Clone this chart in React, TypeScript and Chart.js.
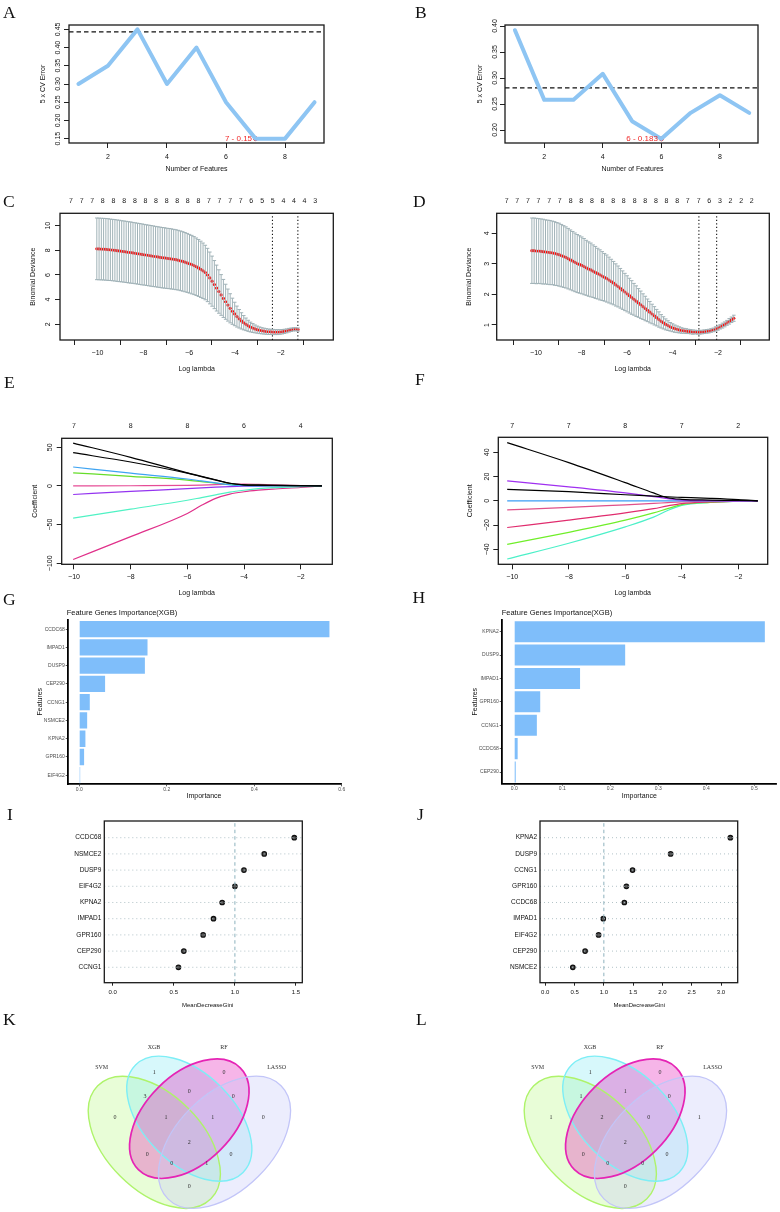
import React, { useEffect, useRef } from "react";
import { Chart, registerables } from "chart.js";

Chart.register(...registerables);

const PAGE_W = 780;
const PAGE_H = 1212;
const SANS = "'Liberation Sans', Arial, Helvetica, sans-serif";
const SERIF = "'Liberation Serif', 'Times New Roman', serif";

// ---------------- A / B : SVM-RFE ----------------
const FEATURES = [1, 2, 3, 4, 5, 6, 7, 8, 9];
const FEATURE_TICKS = [2, 4, 6, 8];
const CV_ERROR_A = [0.3, 0.35, 0.45, 0.3, 0.4, 0.25, 0.15, 0.15, 0.25];
const CV_REF_A = 0.443;
const BEST_A = { n: 7, err: 0.15, label: "7 - 0.15" };
const ERR_TICKS_A = [0.15, 0.2, 0.25, 0.3, 0.35, 0.4, 0.45];
const CV_ERROR_B = [0.392, 0.258, 0.258, 0.308, 0.217, 0.183, 0.233, 0.267, 0.233];
const CV_REF_B = 0.281;
const BEST_B = { n: 6, err: 0.183, label: "6 - 0.183" };
const ERR_TICKS_B = [0.2, 0.25, 0.3, 0.35, 0.4];

// ---------------- C / D : cv.glmnet ----------------
const LAMBDA_C_START = -10.03;
const LAMBDA_C_STEP = 0.0987;
const DEV_MEAN_C = [
  8.12, 8.11, 8.1, 8.09, 8.08, 8.06, 8.04, 8.02, 8.0, 7.97,
  7.95, 7.92, 7.9, 7.87, 7.84, 7.82, 7.79, 7.76, 7.73, 7.7,
  7.67, 7.64, 7.61, 7.58, 7.55, 7.52, 7.49, 7.46, 7.43, 7.4,
  7.38, 7.35, 7.33, 7.3, 7.27, 7.24, 7.2, 7.15, 7.1, 7.04,
  6.98, 6.91, 6.84, 6.76, 6.67, 6.57, 6.46, 6.34, 6.2, 6.0,
  5.76, 5.5, 5.22, 4.94, 4.66, 4.38, 4.1, 3.83, 3.56, 3.3,
  3.06, 2.84, 2.63, 2.45, 2.28, 2.13, 2.0, 1.88, 1.78, 1.7,
  1.63, 1.57, 1.52, 1.48, 1.45, 1.42, 1.4, 1.39, 1.38, 1.37,
  1.37, 1.38, 1.4, 1.43, 1.47, 1.52, 1.56, 1.59, 1.6, 1.58,
];
const DEV_SD_C = [
  2.5, 2.5, 2.5, 2.5, 2.5, 2.5, 2.49, 2.49, 2.49, 2.49,
  2.49, 2.48, 2.48, 2.48, 2.48, 2.48, 2.47, 2.47, 2.47, 2.47,
  2.47, 2.46, 2.46, 2.46, 2.46, 2.46, 2.45, 2.45, 2.45, 2.45,
  2.45, 2.44, 2.44, 2.44, 2.43, 2.43, 2.42, 2.42, 2.41, 2.4,
  2.39, 2.38, 2.37, 2.35, 2.33, 2.31, 2.28, 2.25, 2.21, 2.16,
  2.1, 2.03, 1.95, 1.86, 1.76, 1.65, 1.54, 1.42, 1.3, 1.18,
  1.06, 0.95, 0.85, 0.75, 0.66, 0.58, 0.51, 0.45, 0.4, 0.36,
  0.32, 0.29, 0.27, 0.25, 0.24, 0.23, 0.22, 0.21, 0.21, 0.2,
  0.2, 0.19, 0.18, 0.17, 0.16, 0.15, 0.14, 0.13, 0.13, 0.13,
];
const LAMBDA_LINES_C = [-2.36, -1.25];
const DF_POS_C = [-10.06, -9.69, -9.32, -8.95, -8.58, -8.2, -7.83, -7.46, -7.09, -6.72, -6.35, -5.98, -5.61, -5.24, -4.87, -4.5, -4.13, -3.76, -3.38, -3.01, -2.64, -2.27, -1.9, -1.53];
const DF_LAB_C = ["7", "7", "7", "8", "8", "8", "8", "8", "8", "8", "8", "8", "8", "7", "7", "7", "7", "6", "5", "5", "4", "4", "4", "3"];
const DEV_TICKS_C = [2, 4, 6, 8, 10];

const LAMBDA_D_START = -10.18;
const LAMBDA_D_STEP = 0.0997;
const DEV_MEAN_D = [
  3.43, 3.43, 3.42, 3.42, 3.41, 3.4, 3.39, 3.38, 3.37, 3.36,
  3.34, 3.32, 3.3, 3.27, 3.24, 3.21, 3.17, 3.13, 3.09, 3.05,
  3.01, 2.98, 2.95, 2.91, 2.87, 2.83, 2.8, 2.76, 2.72, 2.68,
  2.64, 2.6, 2.56, 2.52, 2.47, 2.42, 2.37, 2.31, 2.26, 2.2,
  2.14, 2.08, 2.02, 1.96, 1.9, 1.84, 1.78, 1.72, 1.66, 1.6,
  1.54, 1.48, 1.42, 1.36, 1.3, 1.24, 1.18, 1.12, 1.07, 1.02,
  0.98, 0.94, 0.91, 0.88, 0.86, 0.84, 0.82, 0.81, 0.8, 0.79,
  0.78, 0.77, 0.77, 0.76, 0.76, 0.77, 0.78, 0.79, 0.8, 0.82,
  0.84, 0.87, 0.9, 0.94, 0.98, 1.02, 1.07, 1.12, 1.17, 1.22,
];
const DEV_SD_D = [
  1.07, 1.07, 1.07, 1.06, 1.06, 1.06, 1.05, 1.05, 1.05, 1.04,
  1.04, 1.03, 1.03, 1.02, 1.01, 1.0, 0.99, 0.98, 0.97, 0.96,
  0.95, 0.94, 0.93, 0.92, 0.9, 0.89, 0.88, 0.86, 0.85, 0.83,
  0.82, 0.8, 0.78, 0.77, 0.75, 0.73, 0.71, 0.69, 0.67, 0.65,
  0.63, 0.61, 0.59, 0.57, 0.55, 0.52, 0.5, 0.47, 0.45, 0.42,
  0.4, 0.37, 0.35, 0.32, 0.3, 0.27, 0.25, 0.22, 0.2, 0.18,
  0.16, 0.14, 0.13, 0.12, 0.11, 0.1, 0.09, 0.08, 0.08, 0.07,
  0.07, 0.07, 0.06, 0.06, 0.06, 0.06, 0.06, 0.06, 0.06, 0.06,
  0.06, 0.07, 0.07, 0.07, 0.08, 0.08, 0.08, 0.09, 0.09, 0.1,
];
const LAMBDA_LINES_D = [-2.84, -2.06];
const DF_POS_D = [-10.18, -9.81, -9.43, -9.06, -8.68, -8.31, -7.93, -7.56, -7.18, -6.81, -6.43, -6.06, -5.68, -5.31, -4.93, -4.56, -4.18, -3.81, -3.43, -3.06, -2.68, -2.31, -1.93, -1.56];
const DF_LAB_D = ["7", "7", "7", "7", "7", "7", "8", "8", "8", "8", "8", "8", "8", "8", "8", "8", "8", "7", "7", "6", "3", "2", "2", "2"];
const DEV_TICKS_D = [1, 2, 3, 4];
const LOG_LAMBDA_TICKS = [-10, -8, -6, -4, -2];

// ---------------- E / F : coefficient paths ----------------
const LAMBDA_E = [-10.03, -8, -6, -5.5, -5, -4.5, -4, -3.5, -3, -2, -1.25];
const COEF_E_1 = [55.5, 37, 17, 12.5, 8, 3.5, 1.5, 1, 0.8, 0.4, 0];
const COEF_E_2 = [43, 31, 16.5, 12, 7.5, 3.5, 1.5, 1, 0.7, 0.3, 0];
const COEF_E_3 = [24.5, 16.5, 9, 6.5, 4, 1.5, 0.5, 0.2, 0.1, 0, 0];
const COEF_E_4 = [17, 12.5, 7.5, 5.5, 3.5, 2, 1.2, 0.7, 0.4, 0.1, 0];
const COEF_E_5 = [0, 0.3, 0.8, 1.2, 1.8, 2.2, 2.3, 2, 1.5, 0.6, 0];
const COEF_E_6 = [-11, -7, -3.5, -2.5, -1.5, -0.8, -0.3, -0.1, 0, 0, 0];
const COEF_E_7 = [-41.5, -30, -18.5, -15, -11.5, -8, -5.5, -3.5, -2.2, -0.8, 0];
const COEF_E_8 = [-95, -65.5, -35.5, -25, -16, -10.5, -7.5, -5.5, -4, -2, 0];
const DF_POS_E = [-10, -8, -6, -4, -2];
const DF_LAB_E = ["7", "8", "8", "6", "4"];
const COEF_TICKS_E = [-100, -50, 0, 50];

const LAMBDA_F = [-10.18, -8, -6, -5, -4.5, -4, -3, -2, -1.31];
const COEF_F_1 = [48, 31.5, 15, 6.5, 2.5, 1.2, 0.6, 0.3, 0];
const COEF_F_2 = [9.5, 7.5, 5, 3.8, 3.2, 2.8, 2, 1, 0];
const COEF_F_3 = [16.5, 11.5, 6.5, 3.5, 1.8, 0.6, 0.1, 0, 0];
const COEF_F_4 = [0, 0, 0, 0, 0, 0, 0, 0, 0];
const COEF_F_5 = [-7.5, -5.5, -3.3, -2.2, -1.5, -0.9, -0.4, -0.1, 0];
const COEF_F_6 = [-22, -16, -10, -6.5, -4.2, -2.3, -0.9, -0.3, 0];
const COEF_F_7 = [-36, -26, -16, -10, -6.5, -3.2, -1.3, -0.4, 0];
const COEF_F_8 = [-48, -35, -21.5, -13.5, -8, -3.8, -1.4, -0.4, 0];
const DF_POS_F = [-10, -8, -6, -4, -2];
const DF_LAB_F = ["7", "7", "8", "7", "2"];
const COEF_TICKS_F = [-40, -20, 0, 20, 40];

// ---------------- G / H : XGBoost importance ----------------
const XGB_GENES_G = ["CCDC68", "IMPAD1", "DUSP9", "CEP290", "CCNG1", "NSMCE2", "KPNA2", "GPR160", "EIF4G2"];
const XGB_IMP_G = [0.572, 0.156, 0.15, 0.059, 0.024, 0.018, 0.014, 0.011, 0.002];
const IMP_TICKS_G = [0, 0.2, 0.4, 0.6];
const XGB_GENES_H = ["KPNA2", "DUSP9", "IMPAD1", "GPR160", "CCNG1", "CCDC68", "CEP290"];
const XGB_IMP_H = [0.522, 0.231, 0.137, 0.054, 0.047, 0.007, 0.003];
const IMP_TICKS_H = [0, 0.1, 0.2, 0.3, 0.4, 0.5];

// ---------------- I / J : random forest ----------------
const RF_GENES_I = ["CCDC68", "NSMCE2", "DUSP9", "EIF4G2", "KPNA2", "IMPAD1", "GPR160", "CEP290", "CCNG1"];
const RF_GINI_I = [1.486, 1.24, 1.074, 1.0, 0.896, 0.825, 0.74, 0.582, 0.538];
const GINI_TICKS_I = [0, 0.5, 1, 1.5];
const RF_GENES_J = ["KPNA2", "DUSP9", "CCNG1", "GPR160", "CCDC68", "IMPAD1", "EIF4G2", "CEP290", "NSMCE2"];
const RF_GINI_J = [3.16, 2.14, 1.49, 1.385, 1.35, 0.99, 0.91, 0.68, 0.47];
const GINI_TICKS_J = [0, 0.5, 1, 1.5, 2, 2.5, 3];
const GINI_CUT = 1.0;

// ---------------- K / L : Venn ----------------
const VENN_SETS = ["SVM", "XGB", "RF", "LASSO"];
const VENN_REGIONS = ["SVM", "XGB", "RF", "LASSO", "SVM&XGB", "XGB&RF", "RF&LASSO", "SVM&XGB&RF", "XGB&RF&LASSO", "ALL", "SVM&RF", "XGB&LASSO", "SVM&RF&LASSO", "SVM&XGB&LASSO", "SVM&LASSO"];
const VENN_COUNTS_K = [0, 1, 0, 0, 3, 0, 0, 1, 1, 2, 0, 0, 0, 1, 0];
const VENN_COUNTS_L = [1, 1, 0, 1, 1, 1, 0, 2, 0, 2, 0, 0, 0, 0, 0];

// ---------------- layout (positions / styles) ----------------
const REGION_XY: [number, number][] = [
  [-74.3, -1.4], [-35, -46], [34.7, -46], [74, -1.4], [-44.3, -22.7], [0, -27.4], [44, -22.7],
  [-23.3, -1.4], [23.4, -1.4], [0, 23.6], [-42, 35.3], [41.7, 35.3], [-17.6, 44.6], [17.4, 44.6], [0, 67.3],
];
const SET_NAME_XY: [number, number][] = [[-87.6, -51], [-35.3, -71], [34.7, -71], [87.4, -51]];
const ELLIPSES = [
  { cx: -35, cy: 23.6, a: 80, b: 48, rot: 45, fill: "rgba(190,248,140,0.35)", stroke: "#AEF36A", lw: 1.4 },
  { cx: 0, cy: 0, a: 76, b: 45, rot: 45, fill: "rgba(130,234,244,0.32)", stroke: "#7DEEF6", lw: 1.4 },
  { cx: 0, cy: 0, a: 72, b: 44, rot: -45, fill: "rgba(228,30,185,0.33)", stroke: "#E524B5", lw: 1.7 },
  { cx: 35.2, cy: 23.6, a: 80, b: 48, rot: -45, fill: "rgba(200,204,250,0.35)", stroke: "#C2C5F8", lw: 1.3 },
];

const CV_LINE = "#8EC5F3";
const ERR_GRAY = "#A0B2B7";
const BAR_BLUE = "#7FBEFA";
const E_COLORS = ["#000000", "#000000", "#3FA4F2", "#66DD2A", "#E64C96", "#9434F0", "#50F2C4", "#E0308A"];
const F_COLORS = ["#000000", "#000000", "#A030F0", "#3A9CF5", "#E0508A", "#E02D6E", "#70EE2A", "#4CF0C8"];

const PANEL_LETTERS: [string, number, number][] = [
  ["A", 3, 3.5], ["B", 415, 3.5], ["C", 3, 193], ["D", 413, 193], ["E", 4, 373.5], ["F", 415, 370.5],
  ["G", 3, 590.5], ["H", 412.5, 588.5], ["I", 7, 805.5], ["J", 417, 805.5], ["K", 3, 1010.5], ["L", 416, 1010.5],
];

type Box = { l: number; t: number; r: number; b: number };
const YW = 6;
const XH = 20;
const TH = 15;

function padFor(box: Box, yw: number, xh: number, th: number) {
  return { left: box.l - yw, top: box.t - th, right: PAGE_W - box.r, bottom: PAGE_H - box.b - xh };
}

function fmtNum(v: number, d: number) {
  const s = Math.abs(v) < 1e-9 ? (0).toFixed(d) : v.toFixed(d);
  return s.replace("-", "\u2212");
}

type TextItem = {
  t: string; x?: number; y?: number; at?: [number, number]; ox?: number; oy?: number;
  size?: number; color?: string; align?: CanvasTextAlign; rot?: number; family?: string;
};

function textPlugin(items: TextItem[]) {
  return {
    id: "ptext",
    afterDraw(chart: any) {
      const ctx = chart.ctx;
      items.forEach((it) => {
        let x = it.x ?? 0;
        let y = it.y ?? 0;
        if (it.at) {
          x = chart.scales.x.getPixelForValue(it.at[0]);
          y = chart.scales.y.getPixelForValue(it.at[1]);
        }
        x += it.ox ?? 0;
        y += it.oy ?? 0;
        ctx.save();
        ctx.font = `${it.size ?? 7}px ${it.family ?? SANS}`;
        ctx.fillStyle = it.color ?? "#111";
        ctx.textAlign = it.align ?? "center";
        ctx.textBaseline = "middle";
        ctx.translate(x, y);
        if (it.rot) ctx.rotate((it.rot * Math.PI) / 180);
        ctx.fillText(it.t, 0, 0);
        ctx.restore();
      });
    },
  };
}

function boxPlugin() {
  return {
    id: "rbox",
    afterDatasetsDraw(chart: any) {
      const { left, top, right, bottom } = chart.chartArea;
      const ctx = chart.ctx;
      ctx.save();
      ctx.strokeStyle = "#1a1a1a";
      ctx.lineWidth = 1.3;
      ctx.strokeRect(left, top, right - left, bottom - top);
      ctx.restore();
    },
  };
}

function rotYPlugin(x: number, ticks: number[], digits: number, size = 7) {
  return {
    id: "rylab",
    afterDraw(chart: any) {
      const s = chart.scales.y;
      const ctx = chart.ctx;
      ticks.forEach((v) => {
        const py = s.getPixelForValue(v);
        ctx.save();
        ctx.font = `${size}px ${SANS}`;
        ctx.fillStyle = "#111";
        ctx.textAlign = "center";
        ctx.textBaseline = "middle";
        ctx.translate(x, py);
        ctx.rotate(-Math.PI / 2);
        ctx.fillText(fmtNum(v, digits), 0, 0);
        ctx.restore();
      });
    },
  };
}

function rX(min: number, max: number, ticks: number[], digits: number, pad: number, size = 7, tl = 5) {
  return {
    type: "linear",
    position: "bottom",
    min,
    max,
    afterBuildTicks: (s: any) => {
      s.ticks = ticks.map((v) => ({ value: v }));
    },
    afterFit: (s: any) => {
      s.height = XH;
    },
    grid: { display: true, drawOnChartArea: false, drawTicks: true, tickLength: tl, color: "#222", lineWidth: 1 },
    border: { display: false },
    ticks: {
      autoSkip: false, maxRotation: 0, minRotation: 0, padding: pad, color: "#111",
      font: { family: SANS, size },
      callback: (v: number) => fmtNum(v, digits),
    },
  };
}

function rY(min: number, max: number, ticks: number[]) {
  return {
    type: "linear",
    position: "left",
    min,
    max,
    afterBuildTicks: (s: any) => {
      s.ticks = ticks.map((v) => ({ value: v }));
    },
    afterFit: (s: any) => {
      s.width = YW;
    },
    grid: { display: true, drawOnChartArea: false, drawTicks: true, tickLength: 5, color: "#222", lineWidth: 1 },
    border: { display: false },
    ticks: { display: false },
  };
}

function topAxis(min: number, max: number, pos: number[], labels: string[], pad: number) {
  return {
    type: "linear",
    position: "top",
    min,
    max,
    afterBuildTicks: (s: any) => {
      s.ticks = pos.map((v) => ({ value: v }));
    },
    afterFit: (s: any) => {
      s.height = TH;
    },
    grid: { display: false, drawTicks: false },
    border: { display: false },
    ticks: {
      autoSkip: false, maxRotation: 0, minRotation: 0, padding: pad, color: "#111",
      font: { family: SANS, size: 7 },
      callback: (_v: number, i: number) => labels[i],
    },
  };
}

function baseOptions(padding: any, scales: any) {
  return {
    responsive: false,
    animation: false,
    devicePixelRatio: 1,
    events: [],
    layout: { padding },
    plugins: { legend: { display: false }, tooltip: { enabled: false } },
    scales,
  };
}

// ----- A/B -----
function cvConfig(p: {
  box: Box; xmin: number; xmax: number; ymin: number; ymax: number; err: number[]; ref: number;
  best: { n: number; err: number; label: string }; yTicks: number[]; yLabX: number; titleX: number; titleXc: number;
}) {
  return {
    type: "scatter",
    data: {
      datasets: [
        {
          type: "line", data: FEATURES.map((x, i) => ({ x, y: p.err[i] })), borderColor: CV_LINE, borderWidth: 4,
          pointRadius: 0, tension: 0, borderJoinStyle: "round", borderCapStyle: "round",
        },
        {
          type: "line", data: [{ x: p.xmin, y: p.ref }, { x: p.xmax, y: p.ref }], borderColor: "#111",
          borderWidth: 1.4, borderDash: [4.5, 3], pointRadius: 0,
        },
        {
          type: "scatter", data: [{ x: p.best.n, y: p.best.err }], pointRadius: 2, backgroundColor: "#B00000",
          borderColor: "#FF2020", borderWidth: 1,
        },
      ],
    },
    options: baseOptions(padFor(p.box, YW, XH, 0), {
      x: rX(p.xmin, p.xmax, FEATURE_TICKS, 0, 4.5),
      y: rY(p.ymin, p.ymax, p.yTicks),
    }),
    plugins: [
      boxPlugin(),
      rotYPlugin(p.yLabX, p.yTicks, 2),
      textPlugin([
        { t: "5 x CV Error", x: p.titleX, y: 84, rot: -90 },
        { t: "Number of Features", x: p.titleXc, y: 169 },
        { t: p.best.label, at: [p.best.n, p.best.err], ox: -3.5, align: "right", color: "#F02828", size: 8 },
      ]),
    ],
  };
}

// ----- C/D -----
function cvLassoConfig(p: {
  box: Box; xmin: number; xmax: number; ymin: number; ymax: number; start: number; step: number;
  mean: number[]; sd: number[]; lines: number[]; dfPos: number[]; dfLab: string[]; yTicks: number[];
  yLabX: number; titleX: number; titleXc: number;
}) {
  const lam = p.mean.map((_, i) => p.start + i * p.step);
  const lineSets = p.lines.map((v) => ({
    type: "line", data: [{ x: v, y: p.ymin }, { x: v, y: p.ymax }], borderColor: "#111", borderWidth: 1.1,
    borderDash: [1.3, 2.2], pointRadius: 0,
  }));
  return {
    type: "scatter",
    data: {
      datasets: [
        {
          type: "bar", data: lam.map((x, i) => ({ x, y: [p.mean[i] - p.sd[i], p.mean[i] + p.sd[i]] })),
          backgroundColor: ERR_GRAY, barThickness: 1, inflateAmount: 0, borderWidth: 0, grouped: false,
        },
        {
          type: "scatter", data: lam.map((x, i) => ({ x, y: p.mean[i] + p.sd[i] })), pointStyle: "line",
          pointRadius: 1.8, borderColor: ERR_GRAY, borderWidth: 1,
        },
        {
          type: "scatter", data: lam.map((x, i) => ({ x, y: p.mean[i] - p.sd[i] })), pointStyle: "line",
          pointRadius: 1.8, borderColor: ERR_GRAY, borderWidth: 1,
        },
        {
          type: "scatter", data: lam.map((x, i) => ({ x, y: p.mean[i] })), pointRadius: 1.6,
          backgroundColor: "#FF0000", borderWidth: 0,
        },
        ...lineSets,
      ],
    },
    options: baseOptions(padFor(p.box, YW, XH, TH), {
      x: rX(p.xmin, p.xmax, LOG_LAMBDA_TICKS, 0, 4.1),
      xTop: topAxis(p.xmin, p.xmax, p.dfPos, p.dfLab, 8.1),
      y: rY(p.ymin, p.ymax, p.yTicks),
    }),
    plugins: [
      boxPlugin(),
      rotYPlugin(p.yLabX, p.yTicks, 0),
      textPlugin([
        { t: "Binomial Deviance", x: p.titleX, y: 276.7, rot: -90 },
        { t: "Log lambda", x: p.titleXc, y: 369.3 },
      ]),
    ],
  };
}

// ----- E/F -----
function coefConfig(p: {
  box: Box; xmin: number; xmax: number; ymin: number; ymax: number; lam: number[]; paths: number[][];
  colors: string[]; dfPos: number[]; dfLab: string[]; yTicks: number[]; yLabX: number; titleX: number;
  titleXc: number; topPad: number;
}) {
  return {
    type: "scatter",
    data: {
      datasets: p.paths.map((path, k) => ({
        type: "line", data: p.lam.map((x, i) => ({ x, y: path[i] })), borderColor: p.colors[k], borderWidth: 1.2,
        pointRadius: 0, cubicInterpolationMode: "monotone",
      })),
    },
    options: baseOptions(padFor(p.box, YW, XH, TH), {
      x: rX(p.xmin, p.xmax, LOG_LAMBDA_TICKS, 0, 3.2),
      xTop: topAxis(p.xmin, p.xmax, p.dfPos, p.dfLab, p.topPad),
      y: rY(p.ymin, p.ymax, p.yTicks),
    }),
    plugins: [
      boxPlugin(),
      rotYPlugin(p.yLabX, p.yTicks, 0),
      textPlugin([
        { t: "Coefficient", x: p.titleX, y: (p.box.t + p.box.b) / 2, rot: -90 },
        { t: "Log lambda", x: p.titleXc, y: 592.7 },
      ]),
    ],
  };
}

// ----- G/H -----
function xgbConfig(p: {
  box: Box; genes: string[]; imp: number[]; xmin: number; xmax: number; ticks: number[];
  titleX: number; featX: number; impX: number;
}) {
  const GYW = 45;
  const GXH = 15;
  return {
    type: "bar",
    data: {
      labels: p.genes,
      datasets: [
        { data: p.imp, backgroundColor: BAR_BLUE, borderWidth: 0, barPercentage: 0.9, categoryPercentage: 1, inflateAmount: 0 },
      ],
    },
    options: {
      ...baseOptions(padFor(p.box, GYW, GXH, 0), {
        x: {
          type: "linear", position: "bottom", min: p.xmin, max: p.xmax,
          afterBuildTicks: (s: any) => {
            s.ticks = p.ticks.map((v) => ({ value: v }));
          },
          afterFit: (s: any) => {
            s.height = GXH;
          },
          grid: { display: true, drawOnChartArea: false, drawTicks: true, tickLength: 2, color: "#333", lineWidth: 0.8 },
          border: { display: true, color: "#000", width: 1.8 },
          ticks: {
            padding: 0, color: "#4D4D4D", autoSkip: false, maxRotation: 0, font: { family: SANS, size: 5 },
            callback: (v: number) => v.toFixed(1),
          },
        },
        y: {
          type: "category", position: "left", offset: true,
          afterFit: (s: any) => {
            s.width = GYW;
          },
          grid: { display: true, offset: false, drawOnChartArea: false, drawTicks: true, tickLength: 2, color: "#333", lineWidth: 0.8 },
          border: { display: true, color: "#000", width: 1.8 },
          ticks: { padding: 1, color: "#4D4D4D", autoSkip: false, font: { family: SANS, size: 5 } },
        },
      }),
      indexAxis: "y",
    },
    plugins: [
      textPlugin([
        { t: "Feature Genes Importance(XGB)", x: p.titleX, y: 613.3, align: "left", size: 7.5 },
        { t: "Features", x: p.featX, y: 701.7, rot: -90, size: 7 },
        { t: "Importance", x: p.impX, y: 795.7, size: 7 },
      ]),
    ],
  };
}

// ----- I/J -----
function rfConfig(p: {
  box: Box; genes: string[]; vals: number[]; xmin: number; xmax: number; ticks: number[]; titleXc: number;
}) {
  const n = p.genes.length;
  const YMIN = 0.05;
  const YMAX = 10.03;
  const rows = p.genes.map((_, i) => n - i);
  return {
    type: "scatter",
    data: {
      datasets: [
        ...rows.map((r) => ({
          type: "line", data: [{ x: p.xmin, y: r }, { x: p.xmax, y: r }], borderColor: "#A9BCC2", borderWidth: 0.9,
          borderDash: [1, 3], pointRadius: 0,
        })),
        {
          type: "line", data: [{ x: GINI_CUT, y: YMIN }, { x: GINI_CUT, y: YMAX }], borderColor: "#8DB2BD",
          borderWidth: 1, borderDash: [3.5, 3], pointRadius: 0,
        },
        {
          type: "scatter", data: p.vals.map((v, i) => ({ x: v, y: rows[i] })), pointRadius: 2.2, borderWidth: 1.3,
          borderColor: "#111", backgroundColor: "#5a5a5a",
        },
      ],
    },
    options: baseOptions(padFor(p.box, 50, XH, 0), {
      x: rX(p.xmin, p.xmax, p.ticks, 1, 3.4, 6, 3),
      y: {
        type: "linear", position: "left", min: YMIN, max: YMAX,
        afterBuildTicks: (s: any) => {
          s.ticks = rows.map((v) => ({ value: v }));
        },
        afterFit: (s: any) => {
          s.width = 50;
        },
        grid: { display: false, drawTicks: false },
        border: { display: false },
        ticks: {
          padding: 3, color: "#111", autoSkip: false, font: { family: SANS, size: 6.5 },
          callback: (v: number) => p.genes[n - Math.round(v)],
        },
      },
    }),
    plugins: [boxPlugin(), textPlugin([{ t: "MeanDecreaseGini", x: p.titleXc, y: 1005.7, size: 6 }])],
  };
}

// ----- K/L -----
function vennConfig(p: { area: Box; cx: number; cy: number; counts: number[] }) {
  const ellipsePlugin = {
    id: "venn",
    beforeDatasetsDraw(chart: any) {
      const { ctx } = chart;
      const xs = chart.scales.x;
      const ys = chart.scales.y;
      const k = Math.abs(xs.getPixelForValue(1) - xs.getPixelForValue(0));
      const path = (e: any) => {
        ctx.beginPath();
        ctx.ellipse(xs.getPixelForValue(e.cx), ys.getPixelForValue(e.cy), e.a * k, e.b * k, (e.rot * Math.PI) / 180, 0, Math.PI * 2);
      };
      ctx.save();
      ELLIPSES.forEach((e) => {
        path(e);
        ctx.fillStyle = e.fill;
        ctx.fill();
      });
      ELLIPSES.forEach((e) => {
        path(e);
        ctx.strokeStyle = e.stroke;
        ctx.lineWidth = e.lw;
        ctx.stroke();
      });
      ctx.restore();
    },
    afterDatasetsDraw(chart: any) {
      const { ctx } = chart;
      const meta = chart.getDatasetMeta(0);
      const xs = chart.scales.x;
      const ys = chart.scales.y;
      ctx.save();
      ctx.textAlign = "center";
      ctx.textBaseline = "middle";
      ctx.fillStyle = "#333";
      ctx.font = `6px ${SERIF}`;
      p.counts.forEach((c, i) => {
        const el = meta.data[i];
        ctx.fillText(String(c), el.x, el.y);
      });
      ctx.font = `6px ${SERIF}`;
      VENN_SETS.forEach((s, i) => {
        ctx.fillText(s, xs.getPixelForValue(SET_NAME_XY[i][0]), ys.getPixelForValue(SET_NAME_XY[i][1]));
      });
      ctx.restore();
    },
  };
  return {
    type: "scatter",
    data: {
      datasets: [{ label: "regions", data: VENN_REGIONS.map((_, i) => ({ x: REGION_XY[i][0], y: REGION_XY[i][1] })), pointRadius: 0 }],
    },
    options: baseOptions(
      { left: p.area.l, top: p.area.t, right: PAGE_W - p.area.r, bottom: PAGE_H - p.area.b },
      {
        x: { type: "linear", display: false, min: p.area.l - p.cx, max: p.area.r - p.cx },
        y: { type: "linear", display: false, reverse: true, min: p.area.t - p.cy, max: p.area.b - p.cy },
      }
    ),
    plugins: [ellipsePlugin],
  };
}

const LAYERS: (() => any)[] = [
  () =>
    cvConfig({
      box: { l: 69, t: 25, r: 324, b: 143 }, xmin: 0.68, xmax: 9.32, ymin: 0.138, ymax: 0.462, err: CV_ERROR_A,
      ref: CV_REF_A, best: BEST_A, yTicks: ERR_TICKS_A, yLabX: 58.5, titleX: 43, titleXc: 196.5,
    }),
  () =>
    cvConfig({
      box: { l: 505, t: 25, r: 758, b: 143 }, xmin: 0.66, xmax: 9.3, ymin: 0.175, ymax: 0.402, err: CV_ERROR_B,
      ref: CV_REF_B, best: BEST_B, yTicks: ERR_TICKS_B, yLabX: 495.5, titleX: 480, titleXc: 632.5,
    }),
  () =>
    cvLassoConfig({
      box: { l: 60, t: 213.3, r: 333.3, b: 340 }, xmin: -10.444, xmax: -0.896, ymin: 0.73, ymax: 11.0,
      start: LAMBDA_C_START, step: LAMBDA_C_STEP, mean: DEV_MEAN_C, sd: DEV_SD_C, lines: LAMBDA_LINES_C,
      dfPos: DF_POS_C, dfLab: DF_LAB_C, yTicks: DEV_TICKS_C, yLabX: 48.3, titleX: 33.3, titleXc: 196.7,
    }),
  () =>
    cvLassoConfig({
      box: { l: 496.7, t: 213.3, r: 769.3, b: 340 }, xmin: -10.528, xmax: -0.944, ymin: 0.509, ymax: 4.654,
      start: LAMBDA_D_START, step: LAMBDA_D_STEP, mean: DEV_MEAN_D, sd: DEV_SD_D, lines: LAMBDA_LINES_D,
      dfPos: DF_POS_D, dfLab: DF_LAB_D, yTicks: DEV_TICKS_D, yLabX: 486.7, titleX: 469, titleXc: 632.7,
    }),
  () =>
    coefConfig({
      box: { l: 61.7, t: 438.3, r: 332.3, b: 564.3 }, xmin: -10.434, xmax: -0.885, ymin: -101.29, ymax: 61.64,
      lam: LAMBDA_E, paths: [COEF_E_1, COEF_E_2, COEF_E_3, COEF_E_4, COEF_E_5, COEF_E_6, COEF_E_7, COEF_E_8],
      colors: E_COLORS, dfPos: DF_POS_E, dfLab: DF_LAB_E, yTicks: COEF_TICKS_E, yLabX: 50, titleX: 35,
      titleXc: 196.7, topPad: 8.1,
    }),
  () =>
    coefConfig({
      box: { l: 498.3, t: 437.3, r: 767.7, b: 564.3 }, xmin: -10.495, xmax: -0.959, ymin: -52.37, ymax: 52.37,
      lam: LAMBDA_F, paths: [COEF_F_1, COEF_F_2, COEF_F_3, COEF_F_4, COEF_F_5, COEF_F_6, COEF_F_7, COEF_F_8],
      colors: F_COLORS, dfPos: DF_POS_F, dfLab: DF_LAB_F, yTicks: COEF_TICKS_F, yLabX: 486.7, titleX: 470,
      titleXc: 632.7, topPad: 7.1,
    }),
  () =>
    xgbConfig({
      box: { l: 67.7, t: 620, r: 341.7, b: 784.3 }, genes: XGB_GENES_G, imp: XGB_IMP_G, xmin: -0.0265, xmax: 0.6,
      ticks: IMP_TICKS_G, titleX: 66.7, featX: 40, impX: 204,
    }),
  () =>
    xgbConfig({
      box: { l: 501.7, t: 620, r: 776.7, b: 783.7 }, genes: XGB_GENES_H, imp: XGB_IMP_H, xmin: -0.02625, xmax: 0.5467,
      ticks: IMP_TICKS_H, titleX: 501.7, featX: 475, impX: 639.3,
    }),
  () =>
    rfConfig({
      box: { l: 104.3, t: 821, r: 302.3, b: 982.7 }, genes: RF_GENES_I, vals: RF_GINI_I, xmin: -0.0687, xmax: 1.5516,
      ticks: GINI_TICKS_I, titleXc: 207.7,
    }),
  () =>
    rfConfig({
      box: { l: 540, t: 821, r: 737.7, b: 982.7 }, genes: RF_GENES_J, vals: RF_GINI_J, xmin: -0.09, xmax: 3.285,
      ticks: GINI_TICKS_J, titleXc: 639.3,
    }),
  () => vennConfig({ area: { l: 10, t: 1035, r: 380, b: 1210 }, cx: 189.3, cy: 1118.7, counts: VENN_COUNTS_K }),
  () => vennConfig({ area: { l: 400, t: 1035, r: 775, b: 1210 }, cx: 625.3, cy: 1118.7, counts: VENN_COUNTS_L }),
];

function ChartLayer({ make }: { make: () => any }) {
  const ref = useRef<HTMLCanvasElement | null>(null);
  useEffect(() => {
    if (!ref.current) return;
    const chart = new Chart(ref.current, make());
    return () => chart.destroy();
  }, []);
  return (
    <canvas
      ref={ref}
      width={PAGE_W}
      height={PAGE_H}
      style={{ position: "absolute", left: 0, top: 0, width: PAGE_W, height: PAGE_H }}
    />
  );
}

export default function App() {
  return (
    <div
      style={{
        position: "absolute", left: 0, top: 0, width: PAGE_W, height: PAGE_H, background: "#fff", overflow: "hidden",
      }}
    >
      {LAYERS.map((make, i) => (
        <ChartLayer key={i} make={make} />
      ))}
      {PANEL_LETTERS.map(([t, x, y]) => (
        <div
          key={t}
          style={{
            position: "absolute", left: x, top: y, fontFamily: SERIF, fontSize: 17.5, lineHeight: "17.5px", color: "#111",
          }}
        >
          {t}
        </div>
      ))}
    </div>
  );
}
